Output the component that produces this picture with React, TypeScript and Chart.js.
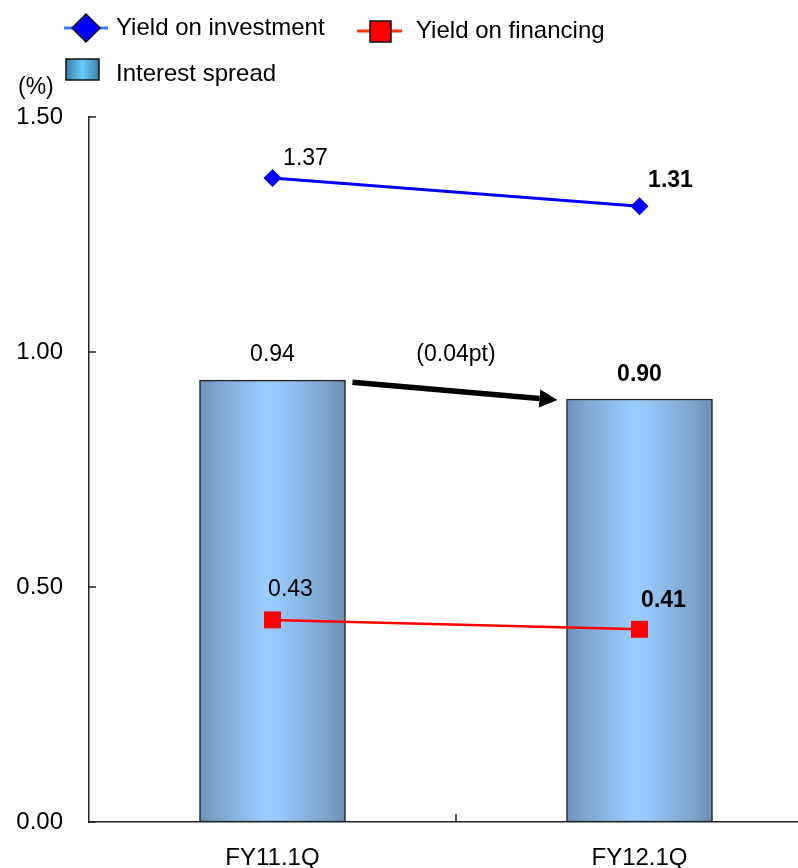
import React, { useEffect, useRef } from 'react';
import { Chart, registerables } from 'chart.js';

Chart.register(...registerables);

const categories = ['FY11.1Q', 'FY12.1Q'];
const yieldOnInvestment = [1.37, 1.31];
const yieldOnFinancing = [0.43, 0.41];
const interestSpread = [0.94, 0.9];
const spreadChangeLabel = '(0.04pt)';
const seriesNames = ['Yield on investment', 'Yield on financing', 'Interest spread'];
const unitLabel = '(%)';
const yMin = 0;
const yMax = 1.5;
const yStep = 0.5;

const FONT = '"Liberation Sans", Arial, Helvetica, sans-serif';
const FS = 23;
const LEGEND_FS = 24;
const TICK_FS = 24;

const barGradient = (ctx: CanvasRenderingContext2D, x0: number, x1: number) => {
  const g = ctx.createLinearGradient(x0, 0, x1, 0);
  g.addColorStop(0, '#6d93bb');
  g.addColorStop(0.15, '#80a9d4');
  g.addColorStop(0.45, '#99ccff');
  g.addColorStop(0.55, '#96c8fb');
  g.addColorStop(0.85, '#7fa6cf');
  g.addColorStop(1, '#6b8fb5');
  return g;
};

const overlayPlugin = {
  id: 'overlay',
  afterDraw(chart: any) {
    const { ctx } = chart;
    const xs = chart.scales.x;
    const ys = chart.scales.y;
    const area = chart.chartArea;
    ctx.save();

    // inner tick marks
    ctx.strokeStyle = '#222';
    ctx.lineWidth = 1.5;
    ys.ticks.forEach((t: any) => {
      const y = ys.getPixelForValue(t.value);
      ctx.beginPath();
      ctx.moveTo(area.left, y);
      ctx.lineTo(area.left + 7, y);
      ctx.stroke();
    });
    for (let i = 1; i < categories.length; i++) {
      const x = (xs.getPixelForValue(i - 1) + xs.getPixelForValue(i)) / 2;
      ctx.beginPath();
      ctx.moveTo(x, area.bottom);
      ctx.lineTo(x, area.bottom - 8);
      ctx.stroke();
    }

    const text = (s: string, x: number, y: number, bold: boolean, align: CanvasTextAlign = 'center', size = FS) => {
      ctx.font = `${bold ? 'bold ' : ''}${size}px ${FONT}`;
      ctx.fillStyle = '#000';
      ctx.textAlign = align;
      ctx.textBaseline = 'middle';
      ctx.fillText(s, x, y);
    };

    // data labels
    const invOff = [[33, -19], [31, -26]];
    const finOff = [[18, -30], [24, -29]];
    const sprOff = [-26, -24];
    categories.forEach((_, i) => {
      const cx = xs.getPixelForValue(i);
      const bold = i === categories.length - 1;
      text(yieldOnInvestment[i].toFixed(2), cx + invOff[i][0], ys.getPixelForValue(yieldOnInvestment[i]) + invOff[i][1], bold);
      text(yieldOnFinancing[i].toFixed(2), cx + finOff[i][0], ys.getPixelForValue(yieldOnFinancing[i]) + finOff[i][1], bold);
      text(interestSpread[i].toFixed(2), cx, ys.getPixelForValue(interestSpread[i]) + sprOff[i], bold);
    });

    // arrow between bars
    const half = 73;
    const x0 = xs.getPixelForValue(0) + half + 7;
    const y0 = ys.getPixelForValue(interestSpread[0]) + 2;
    const x1 = xs.getPixelForValue(1) - half - 9;
    const y1 = ys.getPixelForValue(interestSpread[1]) + 1;
    const ang = Math.atan2(y1 - y0, x1 - x0);
    const hl = 18, hw = 9;
    const bx = x1 - hl * Math.cos(ang);
    const by = y1 - hl * Math.sin(ang);
    ctx.strokeStyle = '#000';
    ctx.fillStyle = '#000';
    ctx.lineWidth = 5.5;
    ctx.beginPath();
    ctx.moveTo(x0, y0);
    ctx.lineTo(bx, by);
    ctx.stroke();
    ctx.beginPath();
    ctx.moveTo(x1, y1);
    ctx.lineTo(bx + hw * Math.sin(ang), by - hw * Math.cos(ang));
    ctx.lineTo(bx - hw * Math.sin(ang), by + hw * Math.cos(ang));
    ctx.closePath();
    ctx.fill();
    text(spreadChangeLabel, (xs.getPixelForValue(0) + xs.getPixelForValue(1)) / 2, ys.getPixelForValue(interestSpread[0]) - 26, false);

    // legend
    ctx.lineWidth = 3;
    ctx.strokeStyle = '#3f7fff';
    ctx.beginPath();
    ctx.moveTo(64, 28);
    ctx.lineTo(108, 28);
    ctx.stroke();
    ctx.beginPath();
    ctx.moveTo(86, 14);
    ctx.lineTo(100, 28);
    ctx.lineTo(86, 42);
    ctx.lineTo(72, 28);
    ctx.closePath();
    ctx.fillStyle = '#0000ff';
    ctx.fill();
    ctx.lineWidth = 1.5;
    ctx.strokeStyle = '#111';
    ctx.stroke();
    text(seriesNames[0], 116, 28, false, 'left', LEGEND_FS);

    ctx.lineWidth = 3;
    ctx.strokeStyle = '#ff3300';
    ctx.beginPath();
    ctx.moveTo(357, 31);
    ctx.lineTo(402, 31);
    ctx.stroke();
    ctx.fillStyle = '#ff0000';
    ctx.fillRect(370, 21, 21, 21);
    ctx.lineWidth = 1.5;
    ctx.strokeStyle = '#111';
    ctx.strokeRect(370, 21, 21, 21);
    text(seriesNames[1], 416, 31, false, 'left', LEGEND_FS);

    const lg = ctx.createLinearGradient(66, 0, 99, 0);
    lg.addColorStop(0, '#3a7ca6');
    lg.addColorStop(0.5, '#66ccff');
    lg.addColorStop(1, '#3a7ca6');
    ctx.fillStyle = lg;
    ctx.fillRect(66, 59, 33, 21);
    ctx.strokeRect(66, 59, 33, 21);
    text(seriesNames[2], 116, 74, false, 'left', LEGEND_FS);

    text(unitLabel, 18, 88, false, 'left');
    ctx.restore();
  },
};

export default function App() {
  const ref = useRef<HTMLCanvasElement>(null);
  useEffect(() => {
    if (!ref.current) return;
    const chart = new Chart(ref.current, {
      type: 'bar',
      data: {
        labels: categories,
        datasets: [
          {
            type: 'line',
            label: seriesNames[0],
            data: yieldOnInvestment,
            borderColor: '#0000ff',
            borderWidth: 3,
            pointStyle: 'rectRot',
            pointRadius: 9,
            pointHoverRadius: 9,
            pointBackgroundColor: '#0000ff',
            pointBorderWidth: 0,
            order: 1,
          } as any,
          {
            type: 'line',
            label: seriesNames[1],
            data: yieldOnFinancing,
            borderColor: '#ff0000',
            borderWidth: 2.5,
            pointStyle: 'rect',
            pointRadius: 12,
            pointHoverRadius: 12,
            pointBackgroundColor: '#ff0000',
            pointBorderWidth: 0,
            order: 1,
          } as any,
          {
            type: 'bar',
            label: seriesNames[2],
            data: interestSpread,
            barThickness: 146,
            borderColor: '#222',
            borderWidth: 1.5,
            borderSkipped: false,
            backgroundColor: (c: any) => {
              const ch = c.chart;
              if (c.type !== 'data' || !ch.chartArea || !ch.scales.x) return '#8fbff0';
              const cx = ch.scales.x.getPixelForValue(c.dataIndex);
              return barGradient(ch.ctx, cx - 73, cx + 73);
            },
            order: 2,
          } as any,
        ],
      },
      options: {
        responsive: false,
        animation: false,
        devicePixelRatio: 1,
        layout: { padding: { top: 117, left: 0, right: 8, bottom: 0 } },
        plugins: { legend: { display: false }, tooltip: { enabled: false } },
        scales: {
          x: {
            grid: { display: false, drawTicks: false, tickLength: 0 },
            border: { display: true, color: '#222', width: 1.5 },
            ticks: { color: '#000', font: { family: FONT, size: TICK_FS }, padding: 22, maxRotation: 0 },
            afterFit: (s: any) => { s.height = 46; },
          },
          y: {
            min: yMin,
            max: yMax,
            grid: { display: false, drawTicks: false, tickLength: 0 },
            border: { display: true, color: '#222', width: 1.5 },
            ticks: {
              stepSize: yStep,
              color: '#000',
              font: { family: FONT, size: TICK_FS },
              padding: 26,
              callback: (v: any) => Number(v).toFixed(2),
            },
            afterFit: (s: any) => { s.width = 89; },
          },
        },
      },
      plugins: [overlayPlugin],
    });
    return () => chart.destroy();
  }, []);
  return (
    <div style={{ position: 'fixed', left: 0, top: 0, width: 798, height: 868, overflow: 'hidden', background: '#fff' }}>
      <canvas ref={ref} width={835} height={868} style={{ width: 835, height: 868, display: 'block' }} />
    </div>
  );
}
